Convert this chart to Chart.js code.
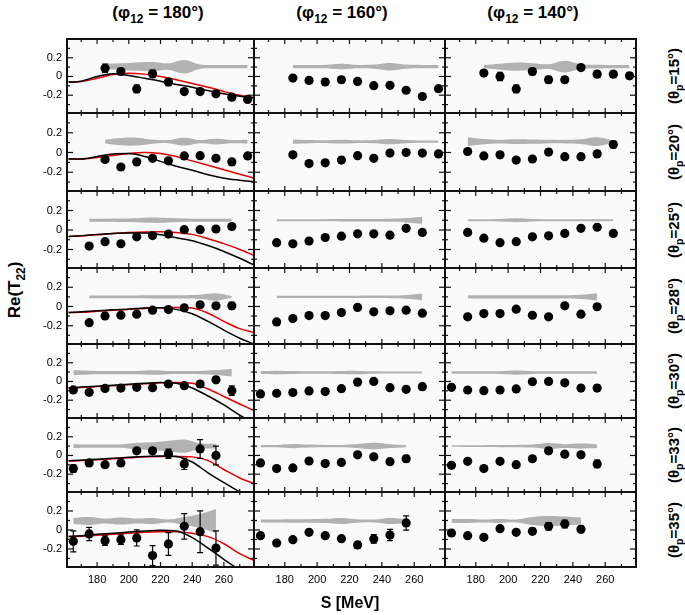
<!DOCTYPE html>
<html>
<head>
<meta charset="utf-8">
<script src="https://cdn.jsdelivr.net/npm/chart.js@4.4.1/dist/chart.umd.min.js"></script>
<style>
  body { margin: 0; background: #fff; font-family: "Liberation Sans", Arial, sans-serif; }
  #page { position: relative; width: 685px; height: 615px; overflow: hidden; }
  #page canvas { position: absolute; }
  .lbl { position: absolute; font-weight: bold; color: #000; white-space: nowrap; }
  .lbl sub { font-size: 70%; vertical-align: -0.4em; line-height: 0; }
</style>
</head>
<body>
<div id="page"></div>
<script>
// axis labels
const phiLabels = ["180", "160", "140"];
const thetaLabels = ["15", "20", "25", "28", "30", "33", "35"];
const xTicks = [180, 200, 220, 240, 260];
const xMinor = [170, 190, 210, 230, 250, 270];
const yTicks = [-0.2, 0, 0.2];
const yTickLabels = ["-0.2", "0", "0.2"];
const yMinor = [-0.3, -0.1, 0.1, 0.3];

// first S value (MeV) of each row, points are 10 MeV apart
const start180 = [185, 185, 175, 175, 165, 165, 165];
const start160 = [185, 185, 175, 175, 165, 165, 165];
const start140 = [185, 175, 175, 175, 165, 165, 165];

// Re(T22) data, one row per theta_p
const re180 = [
  [0.088, 0.053, -0.133, 0.028, -0.059, -0.161, -0.161, -0.185, -0.221, -0.245],
  [-0.07, -0.147, -0.095, -0.059, -0.084, -0.035, -0.032, -0.059, -0.095, -0.035],
  [-0.165, -0.12, -0.141, -0.07, -0.057, -0.042, 0.003, 0.003, 0.01, 0.035],
  [-0.168, -0.098, -0.09, -0.08, -0.038, -0.032, -0.014, 0.018, 0.007, 0.007],
  [-0.09, -0.116, -0.074, -0.07, -0.063, -0.066, -0.027, -0.045, -0.027, 0.018, -0.098],
  [-0.14, -0.08, -0.098, -0.08, 0.05, 0.05, 0.018, -0.09, 0.07, 0.0],
  [-0.12, -0.042, -0.113, -0.102, -0.084, -0.27, -0.147, 0.038, -0.018, -0.19]
];
const re160 = [
  [-0.017, -0.042, -0.059, -0.035, -0.053, -0.098, -0.095, -0.147, -0.214, -0.13],
  [-0.024, -0.112, -0.105, -0.077, -0.032, -0.059, -0.006, 0.0, -0.006, -0.014],
  [-0.13, -0.141, -0.113, -0.077, -0.063, -0.039, -0.039, -0.053, 0.017, -0.025],
  [-0.161, -0.126, -0.095, -0.095, -0.063, -0.01, -0.056, -0.045, -0.038, -0.07],
  [-0.133, -0.126, -0.119, -0.101, -0.108, -0.077, -0.007, 0.0, -0.066, -0.084, -0.056],
  [-0.08, -0.14, -0.133, -0.059, -0.087, -0.074, 0.007, -0.014, -0.066, -0.035],
  [-0.06, -0.137, -0.102, -0.025, -0.06, -0.092, -0.158, -0.095, -0.053, 0.074]
];
const re140 = [
  [0.036, 0.0, -0.133, 0.053, -0.035, -0.035, 0.095, 0.025, 0.025, 0.007],
  [0.01, -0.035, -0.024, -0.077, -0.066, 0.004, -0.042, -0.042, -0.014, 0.081],
  [-0.025, -0.084, -0.13, -0.12, -0.07, -0.06, -0.035, 0.017, 0.028, -0.035],
  [-0.108, -0.074, -0.074, -0.028, -0.091, -0.108, 0.007, -0.08, -0.003],
  [-0.063, -0.091, -0.098, -0.091, -0.08, -0.003, 0.0, -0.014, -0.07, -0.07],
  [-0.105, -0.063, -0.14, -0.063, -0.098, -0.035, 0.05, 0.014, 0.007, -0.09],
  [-0.032, -0.06, -0.077, 0.014, -0.025, -0.014, 0.038, 0.063, 0.007]
];

// statistical errors
const err180 = [
  [0.045, 0.035, 0.04, 0.04, 0.04, 0.03, 0.03, 0.025, 0.02, 0.02],
  [0.03, 0.02, 0.02, 0.02, 0.02, 0.02, 0.02, 0.02, 0.02, 0.02],
  [0.02, 0.02, 0.02, 0.02, 0.02, 0.02, 0.02, 0.02, 0.02, 0.03],
  [0.02, 0.02, 0.02, 0.02, 0.02, 0.02, 0.02, 0.03, 0.03, 0.035],
  [0.02, 0.02, 0.02, 0.02, 0.02, 0.02, 0.02, 0.02, 0.03, 0.03, 0.05],
  [0.04, 0.03, 0.02, 0.02, 0.02, 0.03, 0.05, 0.06, 0.1, 0.1],
  [0.11, 0.07, 0.05, 0.05, 0.085, 0.105, 0.12, 0.135, 0.22, 0.18]
];
const err160 = [
  [0.03, 0.03, 0.035, 0.03, 0.025, 0.02, 0.02, 0.02, 0.02, 0.02],
  [0.02, 0.02, 0.02, 0.02, 0.02, 0.02, 0.02, 0.02, 0.02, 0.02],
  [0.02, 0.02, 0.02, 0.02, 0.02, 0.02, 0.02, 0.02, 0.02, 0.02],
  [0.02, 0.02, 0.02, 0.02, 0.02, 0.02, 0.02, 0.02, 0.02, 0.02],
  [0.02, 0.02, 0.02, 0.02, 0.02, 0.02, 0.02, 0.02, 0.02, 0.02, 0.035],
  [0.025, 0.02, 0.02, 0.02, 0.02, 0.02, 0.02, 0.02, 0.03, 0.035],
  [0.02, 0.02, 0.02, 0.02, 0.02, 0.02, 0.035, 0.045, 0.06, 0.075]
];
const err140 = [
  [0.03, 0.045, 0.04, 0.035, 0.035, 0.03, 0.03, 0.035, 0.03, 0.03],
  [0.025, 0.025, 0.03, 0.02, 0.02, 0.02, 0.025, 0.03, 0.03, 0.035],
  [0.02, 0.02, 0.02, 0.02, 0.02, 0.02, 0.02, 0.02, 0.02, 0.02],
  [0.02, 0.02, 0.02, 0.02, 0.02, 0.02, 0.02, 0.02, 0.03],
  [0.02, 0.02, 0.02, 0.02, 0.02, 0.02, 0.02, 0.02, 0.02, 0.03],
  [0.025, 0.02, 0.02, 0.02, 0.02, 0.02, 0.03, 0.03, 0.03, 0.04],
  [0.025, 0.02, 0.02, 0.02, 0.02, 0.03, 0.04, 0.04, 0.035]
];

// systematic error bands: centre per row, half width per point
const bandCenter = [0.105, 0.11, 0.1, 0.1, 0.095, 0.1, 0.095];
const sys180 = [
  [0.03, 0.035, 0.045, 0.05, 0.035, 0.072, 0.024, 0.018, 0.018, 0.018],
  [0.018, 0.037, 0.04, 0.021, 0.016, 0.04, 0.016, 0.028, 0.016, 0.018],
  [0.016, 0.016, 0.018, 0.02, 0.027, 0.022, 0.018, 0.016, 0.016, 0.016],
  [0.014, 0.014, 0.014, 0.015, 0.016, 0.017, 0.018, 0.022, 0.037, 0.008],
  [0.028, 0.02, 0.018, 0.018, 0.018, 0.024, 0.017, 0.016, 0.018, 0.027, 0.042],
  [0.021, 0.018, 0.018, 0.018, 0.035, 0.042, 0.058, 0.07, 0.03, 0.026],
  [0.032, 0.042, 0.026, 0.037, 0.026, 0.032, 0.016, 0.042, 0.074, 0.127]
];
const sys160 = [
  [0.018, 0.018, 0.018, 0.03, 0.018, 0.022, 0.04, 0.022, 0.018, 0.018],
  [0.022, 0.016, 0.013, 0.02, 0.013, 0.016, 0.027, 0.016, 0.011, 0.011],
  [0.011, 0.011, 0.011, 0.011, 0.012, 0.012, 0.013, 0.016, 0.022, 0.037],
  [0.011, 0.011, 0.011, 0.011, 0.012, 0.012, 0.013, 0.014, 0.02, 0.035],
  [0.016, 0.02, 0.016, 0.013, 0.013, 0.016, 0.018, 0.013, 0.011, 0.011, 0.011],
  [0.011, 0.013, 0.022, 0.016, 0.013, 0.013, 0.022, 0.035, 0.021, 0.011],
  [0.016, 0.016, 0.018, 0.018, 0.022, 0.032, 0.018, 0.016, 0.032, 0.021]
];
const sys140 = [
  [0.018, 0.032, 0.044, 0.037, 0.026, 0.063, 0.026, 0.021, 0.018, 0.018],
  [0.044, 0.026, 0.018, 0.024, 0.021, 0.018, 0.018, 0.024, 0.044, 0.011],
  [0.011, 0.011, 0.013, 0.02, 0.013, 0.011, 0.011, 0.011, 0.011, 0.011],
  [0.016, 0.016, 0.016, 0.016, 0.016, 0.016, 0.017, 0.022, 0.037],
  [0.013, 0.013, 0.013, 0.015, 0.022, 0.015, 0.013, 0.013, 0.013, 0.013],
  [0.008, 0.01, 0.01, 0.011, 0.012, 0.016, 0.032, 0.021, 0.027, 0.021],
  [0.021, 0.021, 0.016, 0.021, 0.016, 0.042, 0.053, 0.047, 0.037]
];

// theory curves (phi12 = 180 only)
const theoryS = [162, 170, 180, 190, 200, 210, 220, 230, 240, 250, 260, 270, 279];
const black180 = [
  [-0.06, -0.05, 0.0, 0.03, 0.01, -0.02, -0.05, -0.085, -0.115, -0.15, -0.185, -0.21, -0.23],
  [-0.065, -0.065, -0.04, -0.015, -0.01, -0.04, -0.09, -0.14, -0.18, -0.225, -0.26, -0.28, -0.295],
  [-0.067, -0.06, -0.045, -0.035, -0.03, -0.03, -0.05, -0.08, -0.11, -0.16, -0.22, -0.29, -0.36],
  [-0.063, -0.055, -0.045, -0.035, -0.028, -0.015, -0.012, -0.03, -0.075, -0.155, -0.245, -0.33, -0.39],
  [-0.07, -0.06, -0.05, -0.04, -0.03, -0.02, -0.01, -0.02, -0.07, -0.155, -0.25, -0.36, -0.45],
  [-0.056, -0.05, -0.04, -0.03, -0.02, -0.012, -0.005, -0.01, -0.07, -0.185, -0.29, -0.39, -0.47],
  [-0.07, -0.06, -0.045, -0.035, -0.022, -0.012, -0.003, -0.01, -0.08, -0.19, -0.31, -0.42, -0.5]
];
const red180 = [
  [-0.06, -0.055, -0.02, 0.02, 0.035, 0.025, 0.0, -0.035, -0.075, -0.115, -0.16, -0.2, -0.225],
  [-0.065, -0.065, -0.05, -0.03, -0.01, 0.0, -0.01, -0.04, -0.085, -0.13, -0.175, -0.22, -0.26],
  [-0.067, -0.06, -0.05, -0.035, -0.025, -0.02, -0.018, -0.025, -0.045, -0.09, -0.14, -0.2, -0.26],
  [-0.063, -0.06, -0.05, -0.04, -0.03, -0.02, -0.012, -0.01, -0.015, -0.07, -0.155, -0.23, -0.27],
  [-0.07, -0.065, -0.055, -0.045, -0.035, -0.025, -0.015, -0.01, -0.02, -0.08, -0.16, -0.24, -0.31],
  [-0.06, -0.055, -0.045, -0.035, -0.025, -0.015, -0.01, -0.01, -0.015, -0.055, -0.15, -0.24, -0.3],
  [-0.07, -0.065, -0.055, -0.045, -0.035, -0.025, -0.018, -0.018, -0.035, -0.07, -0.145, -0.25, -0.32]
];

const columns = [
  { start: start180, re: re180, err: err180, sys: sys180, black: black180, red: red180 },
  { start: start160, re: re160, err: err160, sys: sys160 },
  { start: start140, re: re140, err: err140, sys: sys140 }
];

// layout of the grid in page pixels
const colEdges = [67, 254, 445, 636];
const rowEdges = [39, 113, 191, 268, 344, 418, 492, 567];
const Y_AXIS_W = 36;
const X_AXIS_H = 32;
const FONT = "'Liberation Sans', Arial, sans-serif";

const panelFrame = {
  id: "panelFrame",
  beforeDraw(chart) {
    const { ctx, chartArea: a } = chart;
    ctx.save();
    ctx.fillStyle = "#fafafa";
    ctx.fillRect(a.left, a.top, a.right - a.left, a.bottom - a.top);
    ctx.restore();
  },
  afterDraw(chart) {
    const { ctx, chartArea: a, scales } = chart;
    const tick = (x1, y1, x2, y2) => { ctx.beginPath(); ctx.moveTo(x1, y1); ctx.lineTo(x2, y2); ctx.stroke(); };
    ctx.save();
    ctx.strokeStyle = "#111";
    ctx.lineWidth = 1.2;
    xTicks.concat(xMinor).forEach((v) => {
      const px = scales.x.getPixelForValue(v);
      const len = xTicks.includes(v) ? 5 : 3;
      tick(px, a.top, px, a.top + len);
      tick(px, a.bottom, px, a.bottom - len);
    });
    yTicks.concat(yMinor).forEach((v) => {
      const py = scales.y.getPixelForValue(v);
      const len = yTicks.includes(v) ? 6 : 3;
      tick(a.left, py, a.left + len, py);
      tick(a.right, py, a.right - len, py);
    });
    ctx.lineWidth = 2;
    ctx.strokeRect(a.left, a.top, a.right - a.left, a.bottom - a.top);
    ctx.restore();
  }
};

const errorBars = {
  id: "errorBars",
  beforeDatasetDraw(chart, args) {
    const ds = chart.data.datasets[args.index];
    if (!ds.errorBars) return;
    const { ctx } = chart;
    const y = chart.scales.y;
    ctx.save();
    ctx.strokeStyle = "#000";
    ctx.lineWidth = 1.2;
    args.meta.data.forEach((pt, i) => {
      const d = ds.data[i];
      const top = y.getPixelForValue(d.y + d.e);
      const bot = y.getPixelForValue(d.y - d.e);
      ctx.beginPath();
      ctx.moveTo(pt.x, top); ctx.lineTo(pt.x, bot);
      ctx.moveTo(pt.x - 3, top); ctx.lineTo(pt.x + 3, top);
      ctx.moveTo(pt.x - 3, bot); ctx.lineTo(pt.x + 3, bot);
      ctx.stroke();
    });
    ctx.restore();
  }
};

const page = document.getElementById("page");

function makePanel(c, r) {
  const col = columns[c];
  const showY = c === 0;
  const showX = r === 6;
  const left = colEdges[c] - (showY ? Y_AXIS_W : 0);
  const top = rowEdges[r] - (r === 0 ? 1 : 0);
  const w = colEdges[c + 1] - left + (c === 2 ? 1 : 0);
  const h = rowEdges[r + 1] - top + (showX ? X_AXIS_H : 0);

  const canvas = document.createElement("canvas");
  canvas.width = w;
  canvas.height = h;
  canvas.style.left = left + "px";
  canvas.style.top = top + "px";
  page.appendChild(canvas);

  const sVals = col.re[r].map((_, i) => col.start[r] + 10 * i);
  const points = col.re[r].map((v, i) => ({ x: sVals[i], y: v, e: col.err[r][i] }));
  const lower = col.sys[r].map((hw, i) => ({ x: sVals[i], y: bandCenter[r] - hw }));
  const upper = col.sys[r].map((hw, i) => ({ x: sVals[i], y: bandCenter[r] + hw }));

  const datasets = [
    {
      type: "scatter", data: points, errorBars: true,
      pointRadius: 4.6, pointBackgroundColor: "#000", pointBorderWidth: 0
    },
    {
      type: "line", data: lower, borderWidth: 0, pointRadius: 0, tension: 0.4, fill: false
    },
    {
      type: "line", data: upper, borderWidth: 0, pointRadius: 0, tension: 0.4,
      fill: "-1", backgroundColor: "#b2b2b2"
    }
  ];
  if (col.black) {
    datasets.push({
      type: "line", data: theoryS.map((s, i) => ({ x: s, y: col.black[r][i] })),
      borderColor: "#000", borderWidth: 1.5, pointRadius: 0, cubicInterpolationMode: "monotone", fill: false
    });
    datasets.push({
      type: "line", data: theoryS.map((s, i) => ({ x: s, y: col.red[r][i] })),
      borderColor: "#e60000", borderWidth: 1.5, pointRadius: 0, cubicInterpolationMode: "monotone", fill: false
    });
  }

  new Chart(canvas, {
    type: "scatter",
    data: { datasets },
    options: {
      responsive: false,
      animation: false,
      events: [],
      layout: {
        autoPadding: false,
        padding: { top: r === 0 ? 1 : 0, right: c === 2 ? 1 : 0, left: 0, bottom: 0 }
      },
      plugins: { legend: { display: false }, tooltip: { enabled: false } },
      scales: {
        x: {
          type: "linear", min: 161, max: 279, display: showX,
          grid: { display: false, drawTicks: false }, border: { display: false },
          afterBuildTicks: (s) => { s.ticks = xTicks.map((v) => ({ value: v })); },
          afterFit: (s) => {
            s.height = showX ? X_AXIS_H : 0;
            s.paddingLeft = 0; s.paddingRight = 0;
          },
          ticks: { padding: 6, maxRotation: 0, color: "#000", font: { family: FONT, size: 11 } }
        },
        y: {
          type: "linear", min: -0.39, max: 0.4, display: showY,
          grid: { display: false, drawTicks: false }, border: { display: false },
          afterBuildTicks: (s) => { s.ticks = yTicks.map((v) => ({ value: v })); },
          afterFit: (s) => {
            s.width = showY ? Y_AXIS_W : 0;
            s.paddingTop = 0; s.paddingBottom = 0;
          },
          ticks: {
            padding: 5, color: "#000", font: { family: FONT, size: 11 },
            callback: (v, i) => yTickLabels[i]
          }
        }
      }
    },
    plugins: [panelFrame, errorBars]
  });
}

for (let c = 0; c < 3; c++) {
  for (let r = 0; r < 7; r++) makePanel(c, r);
}

function addLabel(html, x, y, size, rotate) {
  const d = document.createElement("div");
  d.className = "lbl";
  d.innerHTML = html;
  d.style.left = x + "px";
  d.style.top = y + "px";
  d.style.fontSize = size + "px";
  d.style.transform = "translate(-50%, -50%)" + (rotate ? " rotate(-90deg)" : "");
  page.appendChild(d);
}

const headerX = [158, 342, 533];
phiLabels.forEach((p, i) => addLabel("(&phi;<sub>12</sub> = " + p + "&deg;)", headerX[i], 13, 17, false));
thetaLabels.forEach((t, r) => {
  const cy = (rowEdges[r] + rowEdges[r + 1]) / 2;
  addLabel("(&theta;<sub>p</sub>=" + t + "&deg;)", 673, cy, 15, true);
});
addLabel("Re(T<sub>22</sub>)", 15, 290, 17, true);
addLabel("S [MeV]", 350, 603, 16, false);
</script>
</body>
</html>
